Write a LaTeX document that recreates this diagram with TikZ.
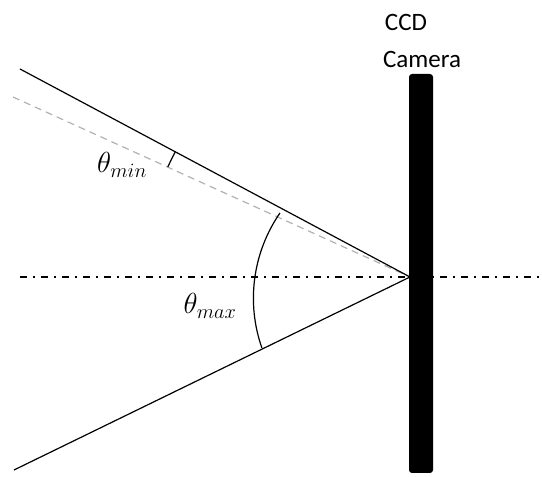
\RequirePackage{fix-cm}
\documentclass[tikz,border=0pt]{standalone}
\usepackage{fontspec}
\setmainfont{Carlito}
\usetikzlibrary{positioning}

\tikzset{
  ray/.style={line width=1.2pt},
  axisline/.style={line width=1.1pt, dash pattern=on 7pt off 6pt on 1.5pt off 6.5pt},
  greyray/.style={line width=1.2pt, color=black!30, dash pattern=on 7pt off 5pt},
  anglearc/.style={line width=1.2pt},
  labeltext/.style={font=\fontsize{25}{30}\selectfont, inner sep=0pt},
  mathtext/.style={font=\fontsize{29}{34}\selectfont, inner sep=0pt}
}

\begin{document}
\begin{tikzpicture}[x=1pt,y=1pt]
  \useasboundingbox (0,0) rectangle (542,477);

  % ray end points
  \coordinate (O) at (410,200);
  \coordinate (A) at (20,408);
  \coordinate (D) at (13,380);
  \coordinate (B) at (14,7);
  \coordinate (L) at (20,200);
  \coordinate (R) at (540,200);

  % optical axis
  \draw[axisline] (L)--(R);

  % dashed ray and outer rays
  \draw[greyray] (D)--(O);
  \draw[ray] (A)--(O)--(B);

  % camera sensor
  \fill[rounded corners=3pt] (409,4) rectangle (433,403);

  % angle marks
  \draw[anglearc] (O) ++(151.9:266) arc[start angle=151.9, end angle=155.6, radius=266];
  \draw[anglearc] (403.4,178.8) ++(145.4:150) arc[start angle=145.4, end angle=199.4, radius=150];

  % labels
  \node[mathtext] (tmin) at (122,312) {$\theta_{min}$};
  \node[mathtext] (tmax) at (210,171) {$\theta_{max}$};
  \node[labeltext] (cam) at (422,418) {Camera};
  \node[labeltext] (ccd) at (406,455) {CCD};
\end{tikzpicture}
\end{document}
